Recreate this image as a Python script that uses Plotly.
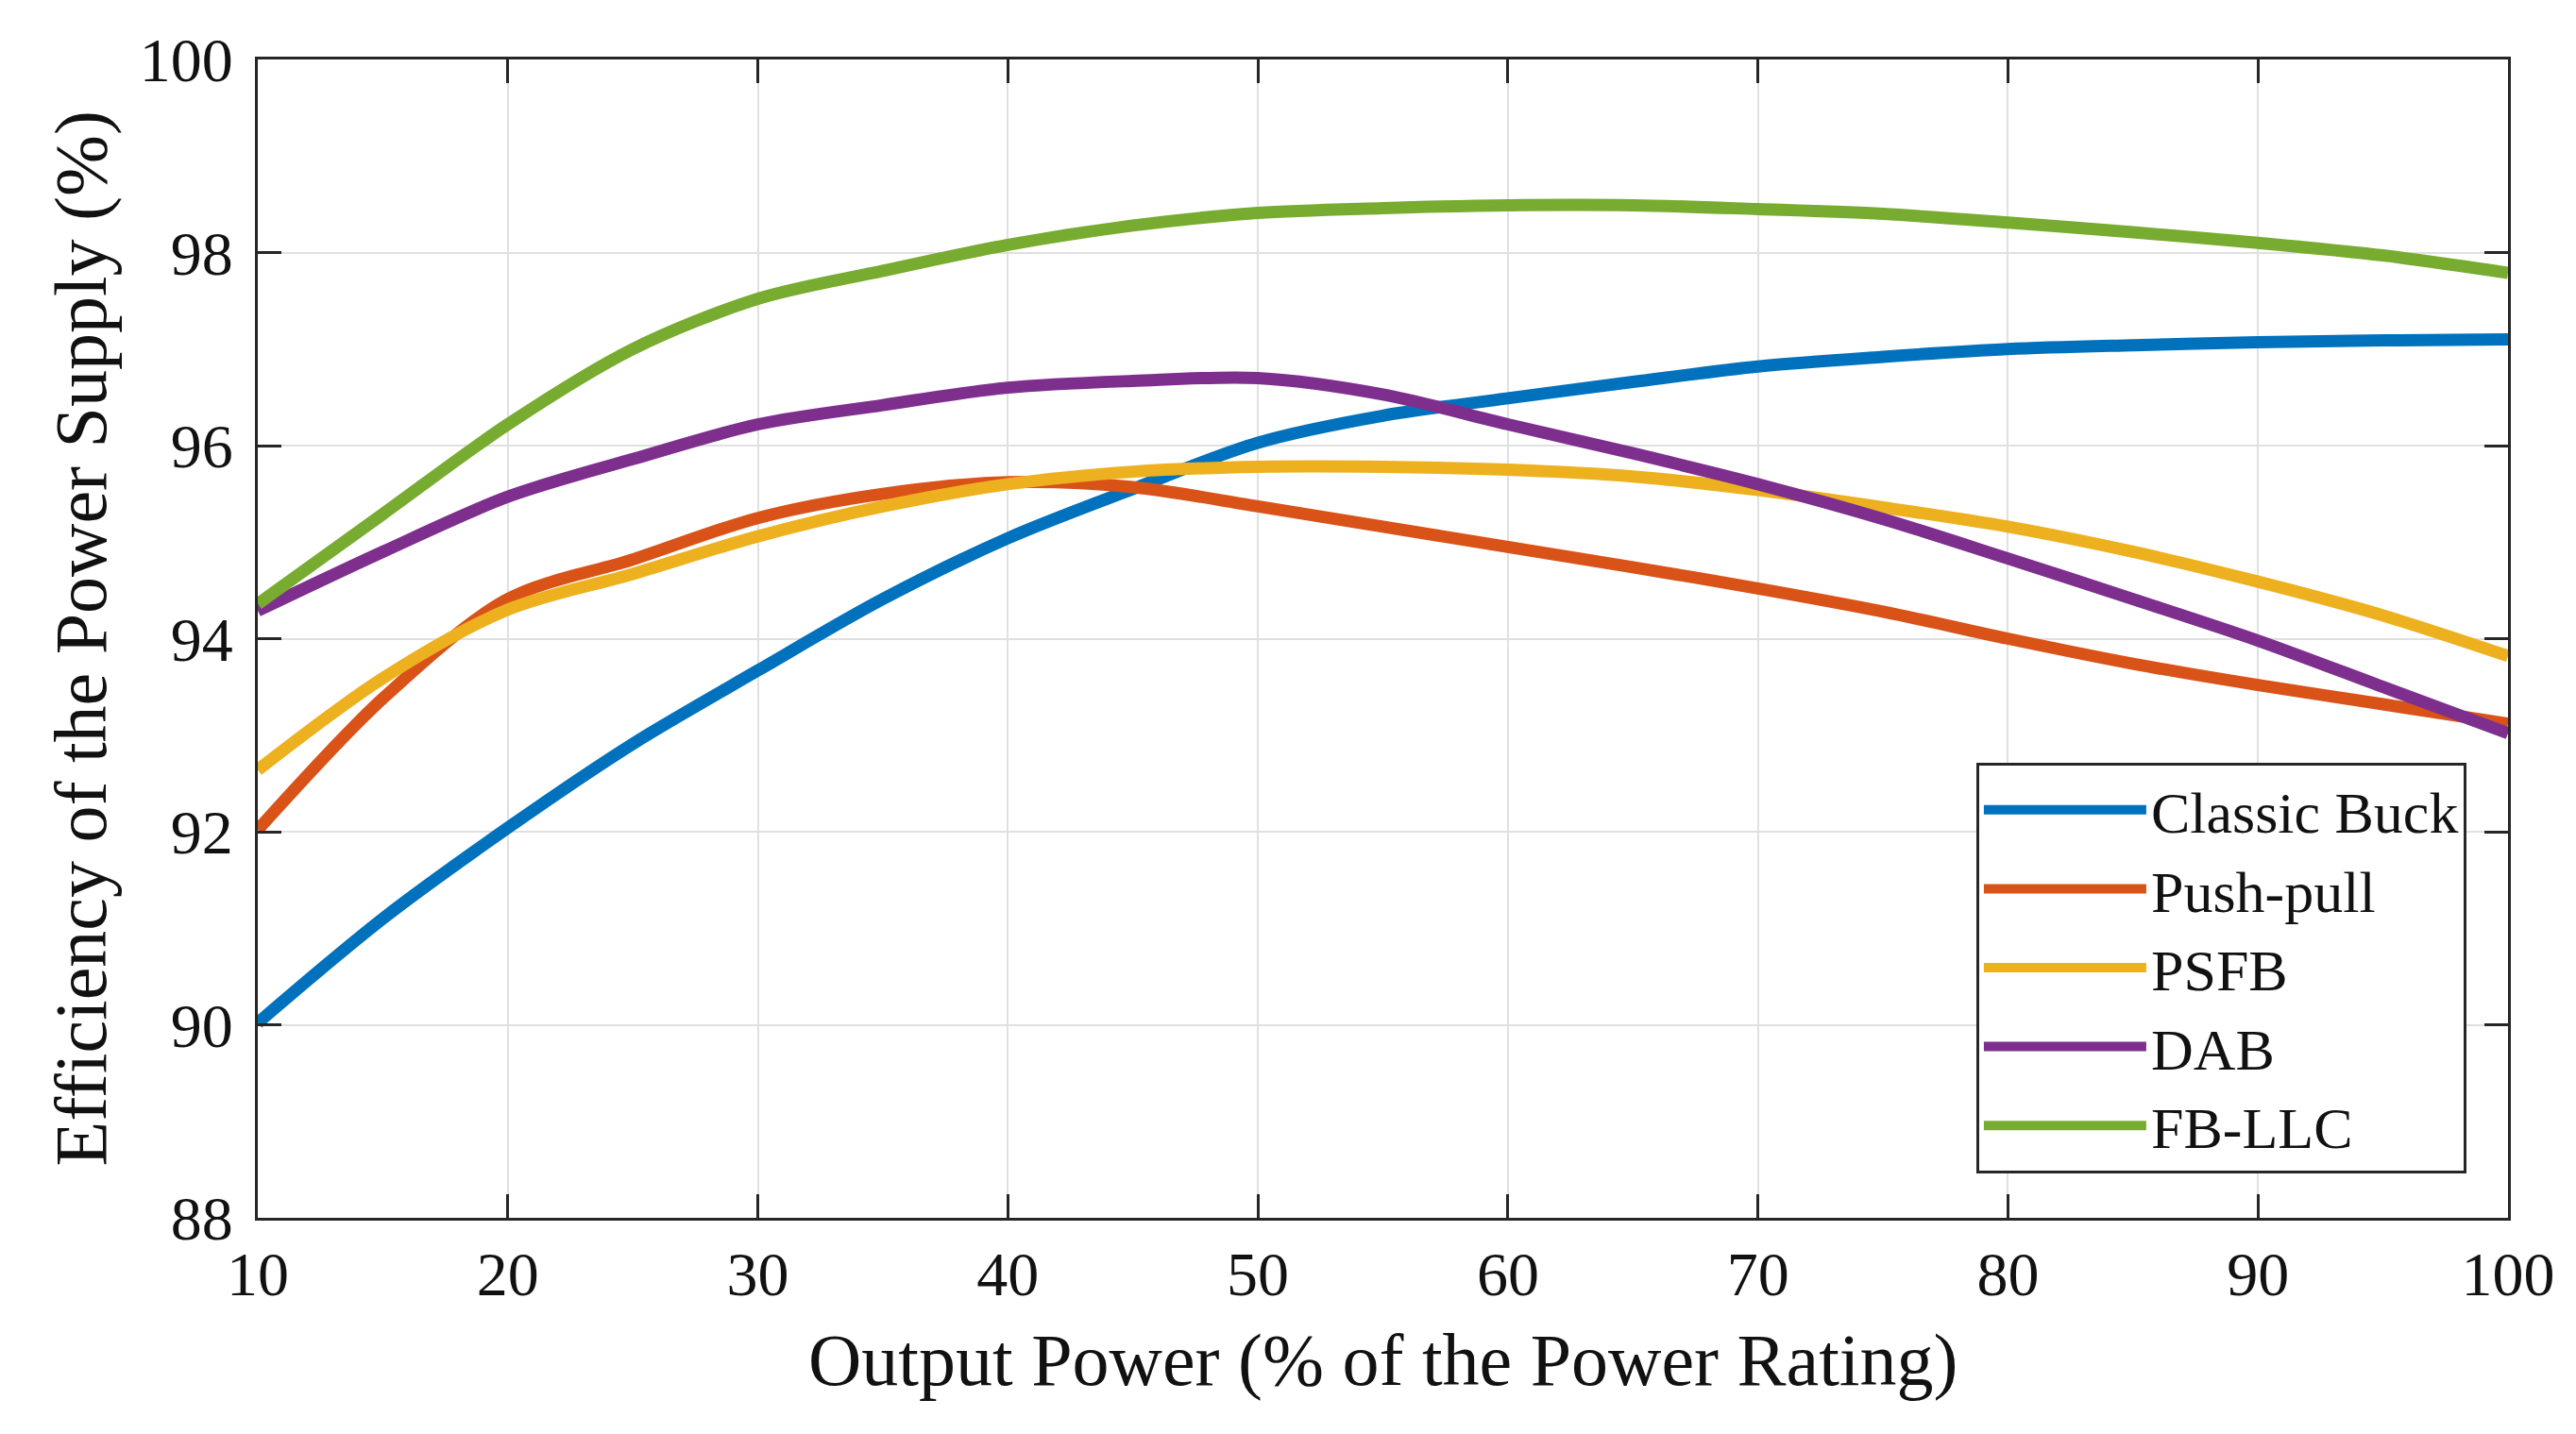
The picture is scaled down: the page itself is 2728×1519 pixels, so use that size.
import plotly.graph_objects as go

# Output power (% of the power rating)
power = [10, 15, 20, 25, 30, 35, 40, 45, 50, 55, 60, 65, 70, 75, 80, 85, 90, 95, 100]

classic_buck = [90.02, 91.10, 92.04, 92.91, 93.67, 94.41, 95.04, 95.55, 96.03, 96.31, 96.49,
                96.66, 96.82, 96.92, 97.00, 97.04, 97.07, 97.09, 97.10]
push_pull = [92.02, 93.38, 94.41, 94.82, 95.25, 95.50, 95.62, 95.57, 95.37, 95.16, 94.95,
             94.74, 94.52, 94.28, 94.00, 93.74, 93.52, 93.32, 93.12]
psfb = [92.64, 93.59, 94.30, 94.67, 95.06, 95.37, 95.60, 95.73, 95.78, 95.78, 95.75,
        95.68, 95.54, 95.36, 95.16, 94.90, 94.59, 94.24, 93.82]
dab = [94.29, 94.90, 95.47, 95.86, 96.22, 96.42, 96.60, 96.67, 96.70, 96.53, 96.22,
       95.92, 95.60, 95.24, 94.83, 94.41, 93.98, 93.50, 93.02]
fb_llc = [94.36, 95.29, 96.22, 97.00, 97.52, 97.81, 98.08, 98.28, 98.41, 98.46, 98.49,
          98.49, 98.45, 98.40, 98.31, 98.21, 98.10, 97.97, 97.79]

series_names = ["Classic Buck", "Push-pull", "PSFB", "DAB", "FB-LLC"]
series_values = [classic_buck, push_pull, psfb, dab, fb_llc]
series_colors = ["#0072BD", "#D95319", "#EDB120", "#7E2F8E", "#77AC30"]

x_ticks = [10, 20, 30, 40, 50, 60, 70, 80, 90, 100]
y_ticks = [88, 90, 92, 94, 96, 98, 100]

x_title = "Output Power (% of the Power Rating)"
y_title = "Efficiency of the Power Supply (%)"

FONT = "Liberation Serif, Times New Roman, serif"
AXIS_COLOR = "#262626"

fig = go.Figure()
for name, vals, col in zip(series_names, series_values, series_colors):
    fig.add_trace(go.Scatter(
        x=power, y=vals, name=name, mode="lines",
        line=dict(color=col, width=13, shape="spline", smoothing=0.9),
    ))

axis_common = dict(
    showline=True, linecolor=AXIS_COLOR, linewidth=3, mirror="ticks",
    ticks="inside", ticklen=25, tickwidth=3, tickcolor=AXIS_COLOR,
    showgrid=True, gridcolor="#e0e0e0", gridwidth=2, zeroline=False,
    tickfont=dict(family=FONT, size=66, color="#111111"),
)

fig.update_xaxes(range=[10, 100], tickvals=x_ticks, **axis_common)
fig.update_yaxes(range=[88, 100], tickvals=y_ticks, ticklabelstandoff=10, **axis_common)

fig.add_annotation(text=x_title, xref="paper", yref="paper", x=0.5, y=-0.1223,
                   xanchor="center", yanchor="middle", showarrow=False,
                   font=dict(family=FONT, size=78, color="#111111"))
fig.add_annotation(text=y_title, xref="paper", yref="paper", x=-0.0785, y=0.5,
                   xanchor="center", yanchor="middle", showarrow=False, textangle=-90,
                   font=dict(family=FONT, size=78, color="#111111"))

fig.update_layout(
    width=2712, height=1503,
    margin=dict(l=265, r=64, t=55, b=221),
    plot_bgcolor="white", paper_bgcolor="white",
    font=dict(family=FONT, color="#111111"),
    legend=dict(
        x=0.9815, y=0.0383, xanchor="right", yanchor="bottom",
        bgcolor="white", bordercolor=AXIS_COLOR, borderwidth=3,
        font=dict(family=FONT, size=62, color="#111111"),
        itemwidth=172, tracegroupgap=0,
    ),
    showlegend=True,
)

fig.write_html("out.html")
